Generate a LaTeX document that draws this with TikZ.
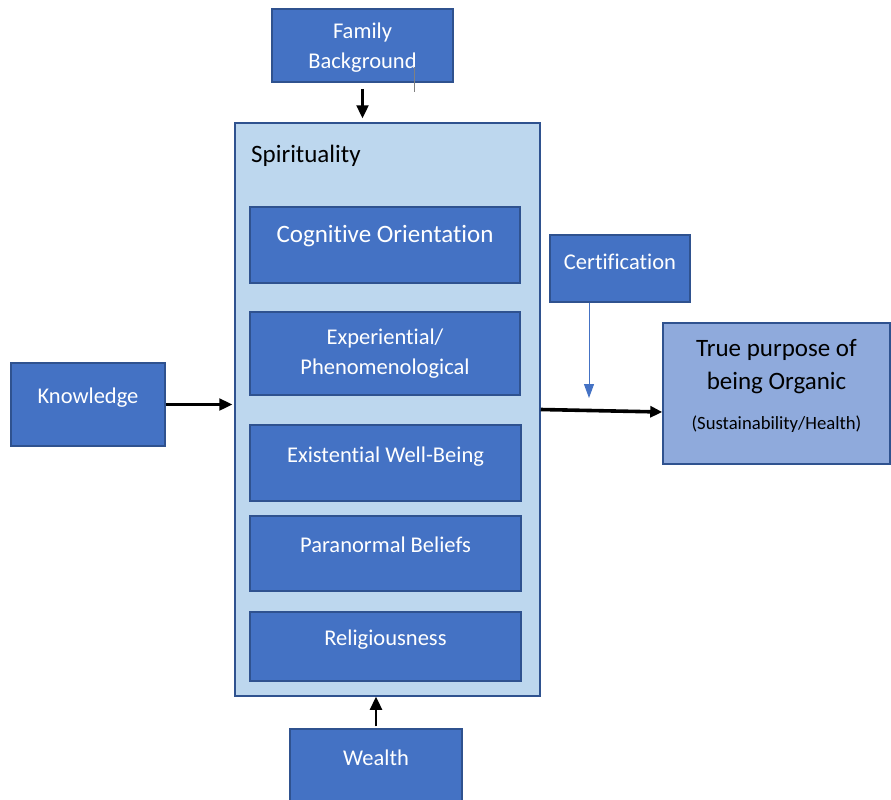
\documentclass[tikz,border=0pt]{standalone}
\usepackage{fontspec}
\setmainfont{Carlito}[Ligatures=NoCommon]
\usetikzlibrary{arrows.meta}
\definecolor{boxblue}{RGB}{68,114,196}
\definecolor{boxline}{RGB}{47,82,143}
\definecolor{spiblue}{RGB}{189,215,238}
\definecolor{purposeblue}{RGB}{143,170,220}

\begin{document}
\begin{tikzpicture}[
	x=1pt, y=-1pt,
	box/.style={draw=boxline, line width=1.5pt, fill=boxblue, text=white, font=\fontsize{22.5}{30}\selectfont, align=center, inner sep=0pt},
	single/.style={text height=15pt, text depth=17pt},
	arr/.style={-{Triangle[length=13pt, width=12pt]}, line width=2.4pt}
	]
	
	\useasboundingbox (0, 0) rectangle (891, 800);
	
	\node (spi) at (387.5, 409.5) [draw=boxline, line width=1.5pt, fill=spiblue, minimum width=305pt, minimum height=573pt] {};
	\node (spititle) at (251, 156) [anchor=west, inner sep=0pt, font=\fontsize{25}{30}\selectfont] {Spirituality};
	
	\node (cog) at (385, 245) [box, minimum width=270pt, minimum height=76pt, font=\fontsize{25}{30}\selectfont, text height=17pt, text depth=23pt] {Cognitive Orientation};
	\node (exp) at (385, 353.5) [box, minimum width=270pt, minimum height=83pt] {Experiential/\\Phenomenological};
	\node (exi) at (385.5, 463) [box, single, minimum width=271pt, minimum height=76pt] {Existential Well-Being};
	\node (par) at (385.5, 553.5) [box, single, minimum width=271pt, minimum height=75pt] {Paranormal Beliefs};
	\node (rel) at (385.5, 646.5) [box, single, minimum width=271pt, minimum height=69pt] {Religiousness};
	
	\node (fam) at (362.5, 45.5) [box, minimum width=181pt, minimum height=73pt, text depth=0pt] {Family\\Background};
	\node (kn) at (88, 404.5) [box, single, minimum width=154pt, minimum height=83pt] {Knowledge};
	\node (wea) at (376, 766) [box, single, minimum width=172pt, minimum height=74pt] {Wealth};
	\node (cert) at (620, 268.5) [box, single, minimum width=140pt, minimum height=67pt, text depth=14pt] {Certification};
	\node (tp) at (776.5, 393.5) [box, fill=purposeblue, text=black, minimum width=227pt, minimum height=141pt, font=\fontsize{25}{33}\selectfont, text depth=18pt] {True purpose of\\being Organic\\[7pt]{\fontsize{18.7}{24}\selectfont (Sustainability/Health)}};
	
	\draw [gray, line width=0.8pt] (414, 67) -- (414, 92);
	
	\draw [arr, shorten <=6pt, shorten >=4pt] (fam.south) -- (fam.south |- spi.north);
	\draw [arr, shorten >=2pt] (kn.east) -- (kn.east -| spi.west);
	\draw [arr, shorten <=2pt] (wea.north) -- (wea.north |- spi.south);
	\draw [arr, line width=3.6pt, -{Triangle[length=12pt, width=11pt]}] (spi.east) -- ([yshift=-18.5pt]tp.west);
	
	\coordinate (certend) at (589, 398);
	\draw [boxblue, line width=1pt, -{Triangle[length=14pt, width=10pt]}] (cert.south -| certend) -- (certend);
\end{tikzpicture}
\end{document}
